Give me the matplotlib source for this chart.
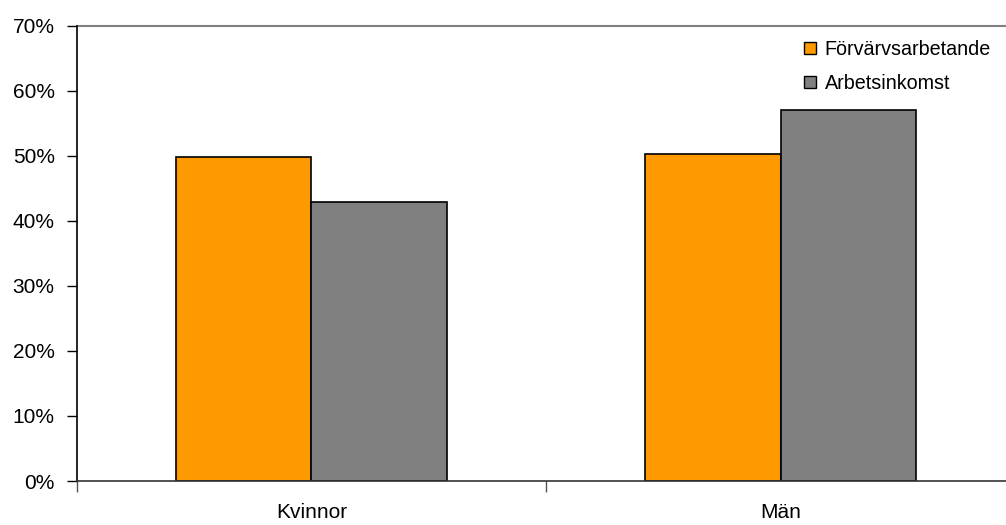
import numpy as np
import matplotlib
matplotlib.use("Agg")
import matplotlib.pyplot as plt
from matplotlib.ticker import FixedLocator, PercentFormatter

plt.rcParams['font.family'] = ['Liberation Sans', 'DejaVu Sans']

# data
groups = ['Kvinnor', 'Män']
series = ['Förvärvsarbetande', 'Arbetsinkomst']
forv = [49.8, 50.3]
arb = [42.9, 57.1]
colors = ['#FF9900', '#808080']

fig = plt.figure(figsize=(10.06, 5.25), dpi=100)
ax = fig.add_axes([0.0765, 0.0838, 0.9325, 0.867])

x = np.arange(len(groups))
w = 0.288
ax.bar(x - w/2, forv, w, color=colors[0], edgecolor='black', linewidth=1.2, label=series[0])
ax.bar(x + w/2, arb, w, color=colors[1], edgecolor='black', linewidth=1.2, label=series[1])

ax.set_xlim(-0.5, 1.5)
ax.set_ylim(0, 70)
ax.set_yticks(np.arange(0, 71, 10))
ax.yaxis.set_major_formatter(PercentFormatter(decimals=0))
ax.set_xticks(x)
ax.set_xticklabels(groups)
ax.xaxis.set_minor_locator(FixedLocator([-0.5, 0.5, 1.5]))
ax.tick_params(axis='x', which='major', length=0, pad=16, labelsize=15)
ax.tick_params(axis='x', which='minor', length=8, width=1, color='#555555')
ax.tick_params(axis='y', length=7, width=1, labelsize=15, pad=9)

# top gridline at 70%
ax.axhline(70, color='#808080', linewidth=1.5, clip_on=False)
for s in ['top', 'right']:
    ax.spines[s].set_visible(False)
ax.spines['left'].set_linewidth(1.2)
ax.spines['bottom'].set_linewidth(1.2)
ax.spines['bottom'].set_color('#333333')

leg = ax.legend(loc='upper right', bbox_to_anchor=(0.993, 1.008), frameon=False,
                fontsize=14.2, handlelength=0.6, handleheight=0.6,
                handletextpad=0.45, labelspacing=0.75)
for h in leg.legend_handles:
    h.set_edgecolor('black')
    h.set_linewidth(1)

fig.savefig('out.png', dpi=100)
